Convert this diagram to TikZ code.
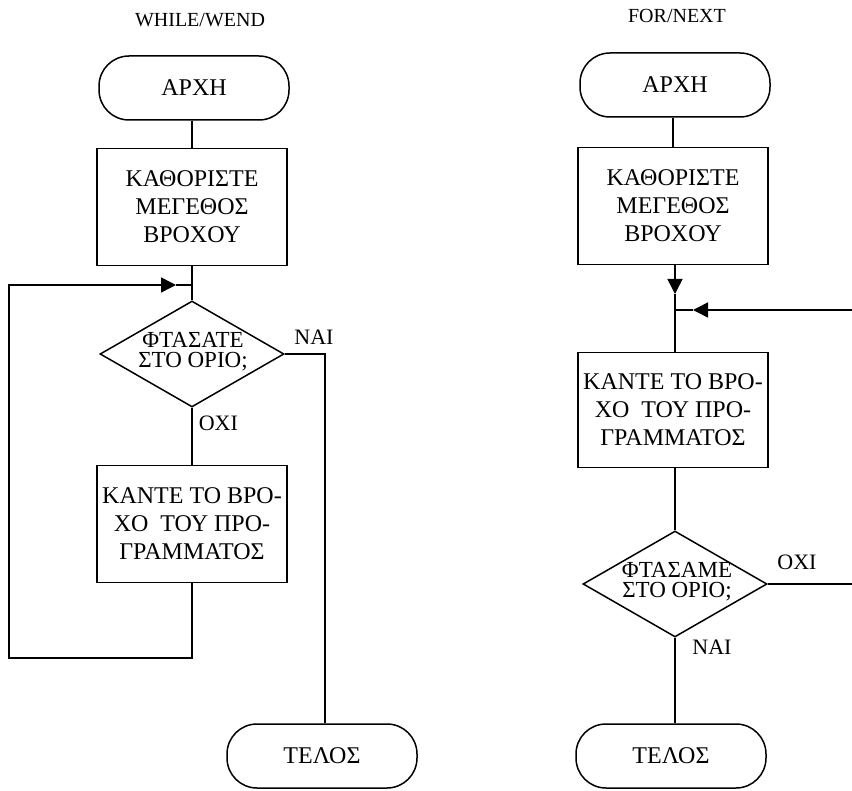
\documentclass[tikz,border=0pt]{standalone}
\usepackage{fontspec}
\setmainfont{Liberation Serif}
\usetikzlibrary{shapes.geometric,arrows.meta}
\begin{document}
\begin{tikzpicture}[x=1pt,y=-1pt, line width=1.5pt,
 term/.style={draw, rectangle, rounded corners=30pt, minimum width=190pt, minimum height=64pt, font=\fontsize{24}{28}\selectfont},
 proc/.style={draw, rectangle, minimum width=190pt, minimum height=117pt, align=center, font=\fontsize{24}{28}\selectfont, inner sep=0pt},
 dec/.style={draw, diamond, minimum width=184pt, minimum height=106pt, inner sep=0pt},
 dectext/.style={align=center, font=\fontsize{23}{20}\selectfont, inner sep=0pt},
 lbl/.style={font=\fontsize{22}{26}\selectfont, inner sep=0pt},
 ttl/.style={font=\fontsize{20}{24}\selectfont, inner sep=0pt},
 tip/.style={-{Triangle[length=15pt,width=15pt]}}]
\useasboundingbox (0,0) rectangle (852,791);
% ---------------- WHILE/WEND ----------------
\node[ttl] (tw) at (200,20) {WHILE/WEND};
\node[term] (s1) at (194,88) {ΑΡΧΗ};
\node[proc] (p1) at (192,207) {ΚΑΘΟΡΙΣΤΕ\\ΜΕΓΕΘΟΣ\\ΒΡΟΧΟΥ};
\node[dec] (d1) at (192,354) {};
\node[dectext] (d1t) at (193,352) {ΦΤΑΣΑΤΕ\\ΣΤΟ ΟΡΙΟ;};
\node[proc] (p2) at (192,524) {ΚΑΝΤΕ ΤΟ ΒΡΟ-\\ΧΟ\ \ ΤΟΥ ΠΡΟ-\\ΓΡΑΜΜΑΤΟΣ};
\node[term] (e1) at (322,756) {ΤΕΛΟΣ};
\node[lbl] (nai1) at (314,337) {ΝΑΙ};
\node[lbl, anchor=west] (oxi1) at (198,423) {ΟΧΙ};
\coordinate (j1) at (192,285);
\coordinate (la) at (176,285);
\coordinate (lb) at (9,658);
\draw (p1.north |- s1.south) -- (p1.north);
\draw (p1.south) -- (d1.north);
\draw (d1.south) -- (p2.north);
\draw (d1.east) -| (e1.north -| 325,0);
\draw[tip] (p2.south) |- (lb) |- (la);
\draw (la) -- (j1);
% ---------------- FOR/NEXT ----------------
\node[ttl] (tf) at (677,16) {FOR/NEXT};
\node[term] (s2) at (675,85) {ΑΡΧΗ};
\node[proc] (p3) at (673,206) {ΚΑΘΟΡΙΣΤΕ\\ΜΕΓΕΘΟΣ\\ΒΡΟΧΟΥ};
\node[proc, minimum height=115pt] (p4) at (673,410) {ΚΑΝΤΕ ΤΟ ΒΡΟ-\\ΧΟ\ \ ΤΟΥ ΠΡΟ-\\ΓΡΑΜΜΑΤΟΣ};
\node[dec] (d2) at (675,584) {};
\node[dectext] (d2t) at (677,582) {ΦΤΑΣΑΜΕ\\ΣΤΟ ΟΡΙΟ;};
\node[term] (e2) at (671,756) {ΤΕΛΟΣ};
\node[lbl] (oxi2) at (797,562) {ΟΧΙ};
\node[lbl] (nai2) at (712,647) {ΝΑΙ};
\coordinate (j2) at (675,310);
\coordinate (da) at (675,294);
\coordinate (ra) at (693,310);
\coordinate (r1) at (852,310);
\coordinate (r2) at (852,584);
\draw (s2.south -| p3.north) -- (p3.north);
\draw[tip] (p3.south -| j2) -- (da);
\draw (da) -- (j2) -- (j2 |- p4.north);
\draw[tip] (r1) -- (ra);
\draw (ra) -- (j2);
\draw (p4.south -| d2.north) -- (d2.north);
\draw (d2.east) -- (r2);
\draw (d2.south) -- (d2.south |- e2.north);
\end{tikzpicture}
\end{document}
